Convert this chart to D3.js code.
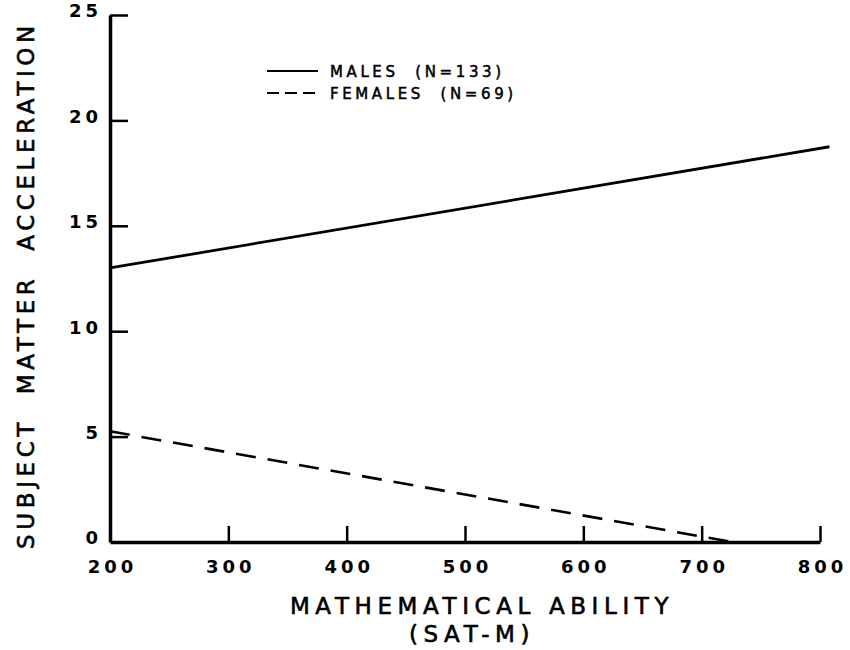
<!DOCTYPE html>
<html>
<head>
<meta charset="utf-8">
<script src="https://cdn.jsdelivr.net/npm/d3@7"></script>
<style>
  body { margin: 0; background: #fff; }
  text { font-family: "DejaVu Sans", sans-serif; fill: #000; }
</style>
</head>
<body>
<div id="chart"></div>
<script>
// data
var xTicks = [200, 300, 400, 500, 600, 700, 800];
var yTicks = [0, 5, 10, 15, 20, 25];
var malesX = [200, 808];
var malesY = [13.0, 18.75];
var femalesX = [200, 726];
var femalesY = [5.25, 0];
var seriesNames = ["MALES  (N=133)", "FEMALES  (N=69)"];

var width = 850, height = 650;
var margin = {top: 15, right: 30, bottom: 108, left: 110};

var svg = d3.select("#chart").append("svg")
  .attr("width", width)
  .attr("height", height);

var g = svg.append("g")
  .attr("transform", "translate(" + margin.left + "," + margin.top + ")");

var w = width - margin.left - margin.right;   // 710
var h = height - margin.top - margin.bottom;  // 527

//scales
var x = d3.scaleLinear().domain([200, 800]).range([0, w]);
var y = d3.scaleLinear().domain([0, 25]).range([h, 0]);

// axes drawn with ticks pointing inward
var xAxis = g.append("g")
  .attr("transform", "translate(0," + h + ")")
  .call(d3.axisBottom(x).tickValues(xTicks).tickSizeInner(-16).tickSizeOuter(0).tickPadding(27));
xAxis.select(".domain").attr("stroke-width", 3.5);
xAxis.selectAll(".tick line").attr("stroke-width", 2.5);
xAxis.selectAll(".tick text")
  .style("font-size", "18px").style("font-weight", "bold").style("letter-spacing", "4px")
  .attr("dx", "2px")
  .attr("dy", "0.2em");

var yAxis = g.append("g")
  .call(d3.axisLeft(y).tickValues(yTicks).tickSizeInner(-18).tickSizeOuter(0).tickPadding(8));
yAxis.select(".domain").attr("stroke-width", 3.5);
yAxis.selectAll(".tick line").attr("stroke-width", 2.5);
yAxis.selectAll(".tick text")
  .style("font-size", "18px").style("font-weight", "bold").style("letter-spacing", "4px")
  .attr("dy", "0.1em");
yAxis.selectAll(".tick").filter(d => d == 0).select("line").remove();
xAxis.selectAll(".tick").filter(d => d == 200).select("line").remove();

var line = d3.line().x(d => x(d[0])).y(d => y(d[1]));

g.append("path")
  .datum(d3.zip(malesX, malesY))
  .attr("d", line)
  .attr("fill", "none")
  .attr("stroke", "#000")
  .attr("stroke-width", 2.8);

g.append("path")
  .datum(d3.zip(femalesX, femalesY))
  .attr("d", line)
  .attr("fill", "none")
  .attr("stroke", "#000")
  .attr("stroke-width", 2.6)
  .attr("stroke-dasharray", "20,12");

// legend
var legend = svg.append("g").attr("transform", "translate(267,71)");
legend.append("line").attr("x1", 0).attr("x2", 51).attr("y1", 0).attr("y2", 0)
  .attr("stroke", "#000").attr("stroke-width", 1.8);
legend.append("line").attr("x1", 0).attr("x2", 51).attr("y1", 22).attr("y2", 22)
  .attr("stroke", "#000").attr("stroke-width", 1.8).attr("stroke-dasharray", "12,6");
legend.selectAll("text.lg").data(seriesNames).enter().append("text")
  .attr("class", "lg")
  .attr("x", 63)
  .attr("y", (d, i) => i * 22 + 6)
  .style("font-size", "15px")
  .style("letter-spacing", "3.6px")
  .style("stroke", "#000").style("stroke-width", 0.5)
  .style("white-space", "pre")
  .text(d => d);

// axis titles
svg.append("text")
  .attr("x", 482).attr("y", 614)
  .attr("text-anchor", "middle")
  .style("font-size", "23px").style("letter-spacing", "5.6px")
  .style("stroke", "#000").style("stroke-width", 0.6)
  .text("MATHEMATICAL ABILITY");
svg.append("text")
  .attr("x", 472).attr("y", 642)
  .attr("text-anchor", "middle")
  .style("font-size", "23px").style("letter-spacing", "5.6px")
  .style("stroke", "#000").style("stroke-width", 0.6)
  .text("(SAT-M)");

svg.append("text")
  .attr("transform", "translate(34,285) rotate(-90)")
  .attr("text-anchor", "middle")
  .style("font-size", "23px").style("letter-spacing", "4.6px")
  .style("stroke", "#000").style("stroke-width", 0.6)
  .style("white-space", "pre")
  .text("SUBJECT  MATTER  ACCELERATION");
</script>
</body>
</html>
